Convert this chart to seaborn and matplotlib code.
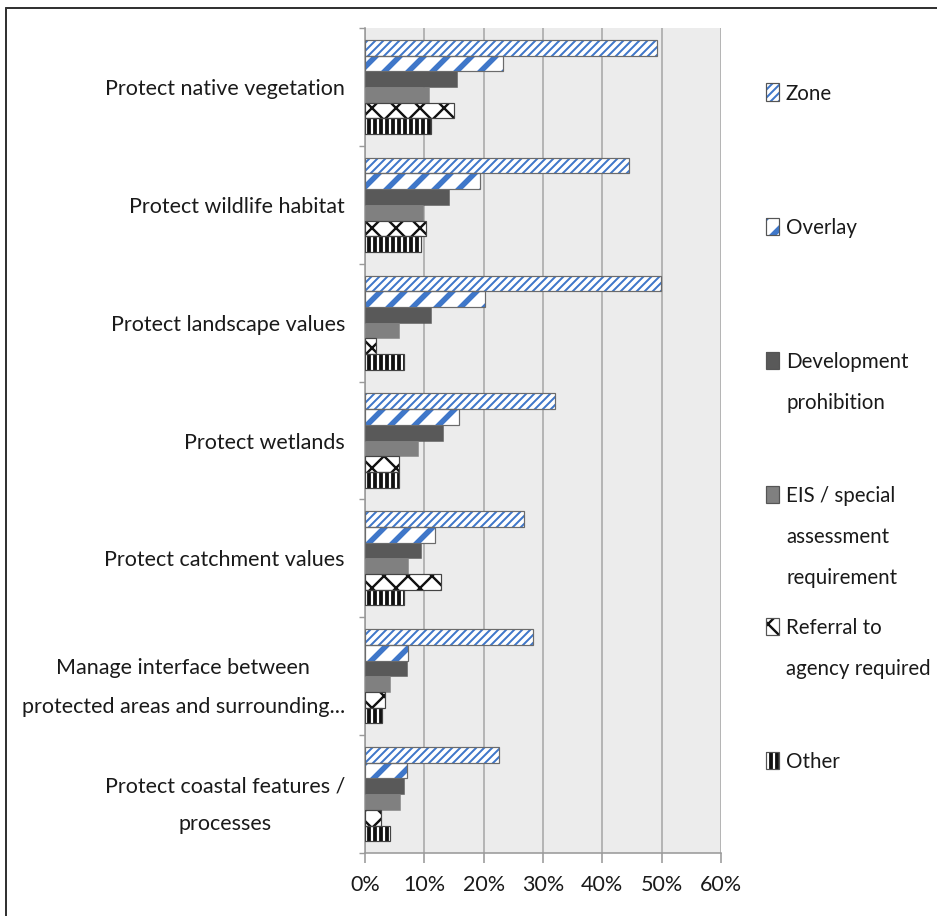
import matplotlib
matplotlib.use("Agg")
import matplotlib.pyplot as plt
from matplotlib.patches import Rectangle
from matplotlib.lines import Line2D
from matplotlib import font_manager
import seaborn as sns
import pandas as pd
import numpy as np

categories = [
    "Protect native vegetation",
    "Protect wildlife habitat",
    "Protect landscape values",
    "Protect wetlands",
    "Protect catchment values",
    "Manage interface between\nprotected areas and surrounding...",
    "Protect coastal features /\nprocesses",
]
methods = ["Zone", "Overlay", "Development prohibition",
           "EIS / special assessment requirement",
           "Referral to agency required", "Other"]
legend_labels = ["Zone", "Overlay", "Development\nprohibition",
                 "EIS / special\nassessment\nrequirement",
                 "Referral to\nagency required", "Other"]

zone        = [49.2, 44.5, 49.9, 32.0, 26.8, 28.3, 22.5]
overlay     = [23.3, 19.3, 20.2, 15.9, 11.8, 7.2, 7.0]
development = [15.5, 14.2, 11.1, 13.1, 9.4, 7.0, 6.6]
eis         = [10.8, 9.7, 5.8, 9.0, 7.3, 4.2, 5.9]
referral    = [15.0, 10.3, 1.8, 5.8, 12.8, 3.3, 2.7]
other       = [11.2, 9.4, 6.6, 5.8, 6.5, 2.8, 4.2]
xticks = [0, 10, 20, 30, 40, 50, 60]
xtick_labels = ["0%", "10%", "20%", "30%", "40%", "50%", "60%"]

series = [zone, overlay, development, eis, referral, other]
rows = []
for m, vals in zip(methods, series):
    for c, v in zip(categories, vals):
        rows.append({"category": c, "method": m, "value": v})
df = pd.DataFrame(rows)

sns.set_theme(style="white")
avail = {f.name for f in font_manager.fontManager.ttflist}
fam = "Liberation Sans Narrow" if "Liberation Sans Narrow" in avail else "Lato"
plt.rcParams["font.family"] = [fam, "DejaVu Sans"]
TXT = "#1a1a1a"
FS = 21.5
FS_LEG = 20.5

DPI = 72
fig = plt.figure(figsize=(937 / DPI, 916 / DPI), dpi=DPI)
fig.patch.set_facecolor("white")
ax = fig.add_axes([365 / 937, 1 - 853 / 916, (721 - 365) / 937, (853 - 28) / 916])

BLUE = "#3f77c9"
styles = [
    dict(fc="white", hc=BLUE, hatch="///", hlw=2.0, ec="#6b6b6b"),
    dict(fc="white", hc=BLUE, hatch="/", hlw=5.5, ec="#6b6b6b"),
    dict(fc="#595959", hc=None, hatch=None, hlw=1, ec="#595959"),
    dict(fc="#808080", hc=None, hatch=None, hlw=1, ec="#808080"),
    dict(fc="white", hc="#111111", hatch="x", hlw=2.4, ec="#444444"),
    dict(fc="white", hc="#111111", hatch="||", hlw=3.8, ec="#444444"),
]
palette = {m: s["fc"] for m, s in zip(methods, styles)}

sns.barplot(data=df, y="category", x="value", hue="method", order=categories,
            hue_order=methods, orient="h", palette=palette, width=0.8,
            saturation=1, legend=False, ax=ax, zorder=3)


def style_patch(p, s):
    p.set_facecolor(s["fc"])
    if s["hatch"]:
        p.set_hatch(s["hatch"])
        p.set_edgecolor(s["hc"])
        p.set_linewidth(0)
        if hasattr(p, "set_hatch_linewidth"):
            p.set_hatch_linewidth(s["hlw"])
    else:
        p.set_edgecolor(s["ec"])
        p.set_linewidth(0.5)


for cont, s in zip(ax.containers, styles):
    for p in cont.patches:
        style_patch(p, s)
        if s["hatch"]:
            ax.add_patch(Rectangle(p.get_xy(), p.get_width(), p.get_height(),
                                   fill=False, edgecolor=s["ec"], linewidth=1.2,
                                   zorder=4))

ax.set_facecolor("#ececec")
ax.set_xlim(0, 60)
ax.set_ylim(6.5, -0.5)
ax.set_xticks(xticks)
ax.set_xticklabels(xtick_labels, fontsize=FS, color=TXT)
ax.set_yticks(range(len(categories)))
ax.set_yticklabels(categories, fontsize=FS, color=TXT,
                   multialignment="center", linespacing=2.15)
ax.grid(axis="x", color="#a8a8a8", linewidth=1.6, zorder=0)
ax.set_axisbelow(True)
ax.set_xlabel("")
ax.set_ylabel("")
for side in ["top", "right"]:
    ax.spines[side].set_visible(False)
for side in ["left", "bottom"]:
    ax.spines[side].set_color("#9a9a9a")
    ax.spines[side].set_linewidth(1.6)
ax.tick_params(axis="x", length=10, width=1.6, color="#9a9a9a", pad=12,
               direction="out", bottom=True)
ax.tick_params(axis="y", which="major", length=0, pad=20)
ax.set_yticks(np.arange(-0.5, 7.0, 1.0), minor=True)
ax.tick_params(axis="y", which="minor", length=6, width=1.4, color="#9a9a9a",
               direction="out", left=True)

# legend (manual, right side)
leg_y = [92, 226, 360, 494, 626, 760]
for s, lab, yy in zip(styles, legend_labels, leg_y):
    yc = 1 - yy / 916
    r = Rectangle((766 / 937, yc - 8.5 / 916), 13 / 937, 17 / 916,
                  transform=fig.transFigure, facecolor=s["fc"],
                  edgecolor=s["hc"] if s["hatch"] else s["ec"],
                  hatch=s["hatch"], linewidth=0)
    if s["hatch"] and hasattr(r, "set_hatch_linewidth"):
        r.set_hatch_linewidth(s["hlw"])
    fig.add_artist(r)
    fig.add_artist(Rectangle((766 / 937, yc - 8.5 / 916), 13 / 937, 17 / 916,
                             transform=fig.transFigure, fill=False,
                             edgecolor="#555555", linewidth=1.2))
    for k, line in enumerate(lab.split("\n")):
        fig.text(786 / 937, 1 - (yy + k * 41) / 916, line, fontsize=FS_LEG,
                 color=TXT, ha="left", va="center_baseline")

# outer frame (left and top edges visible)
fig.add_artist(Line2D([6 / 937, 6 / 937], [0, 1 - 8 / 916],
                      transform=fig.transFigure, color="#333333", linewidth=2))
fig.add_artist(Line2D([6 / 937, 1], [1 - 8 / 916, 1 - 8 / 916],
                      transform=fig.transFigure, color="#333333", linewidth=2))

fig.savefig("out.png", dpi=DPI, facecolor="white")
